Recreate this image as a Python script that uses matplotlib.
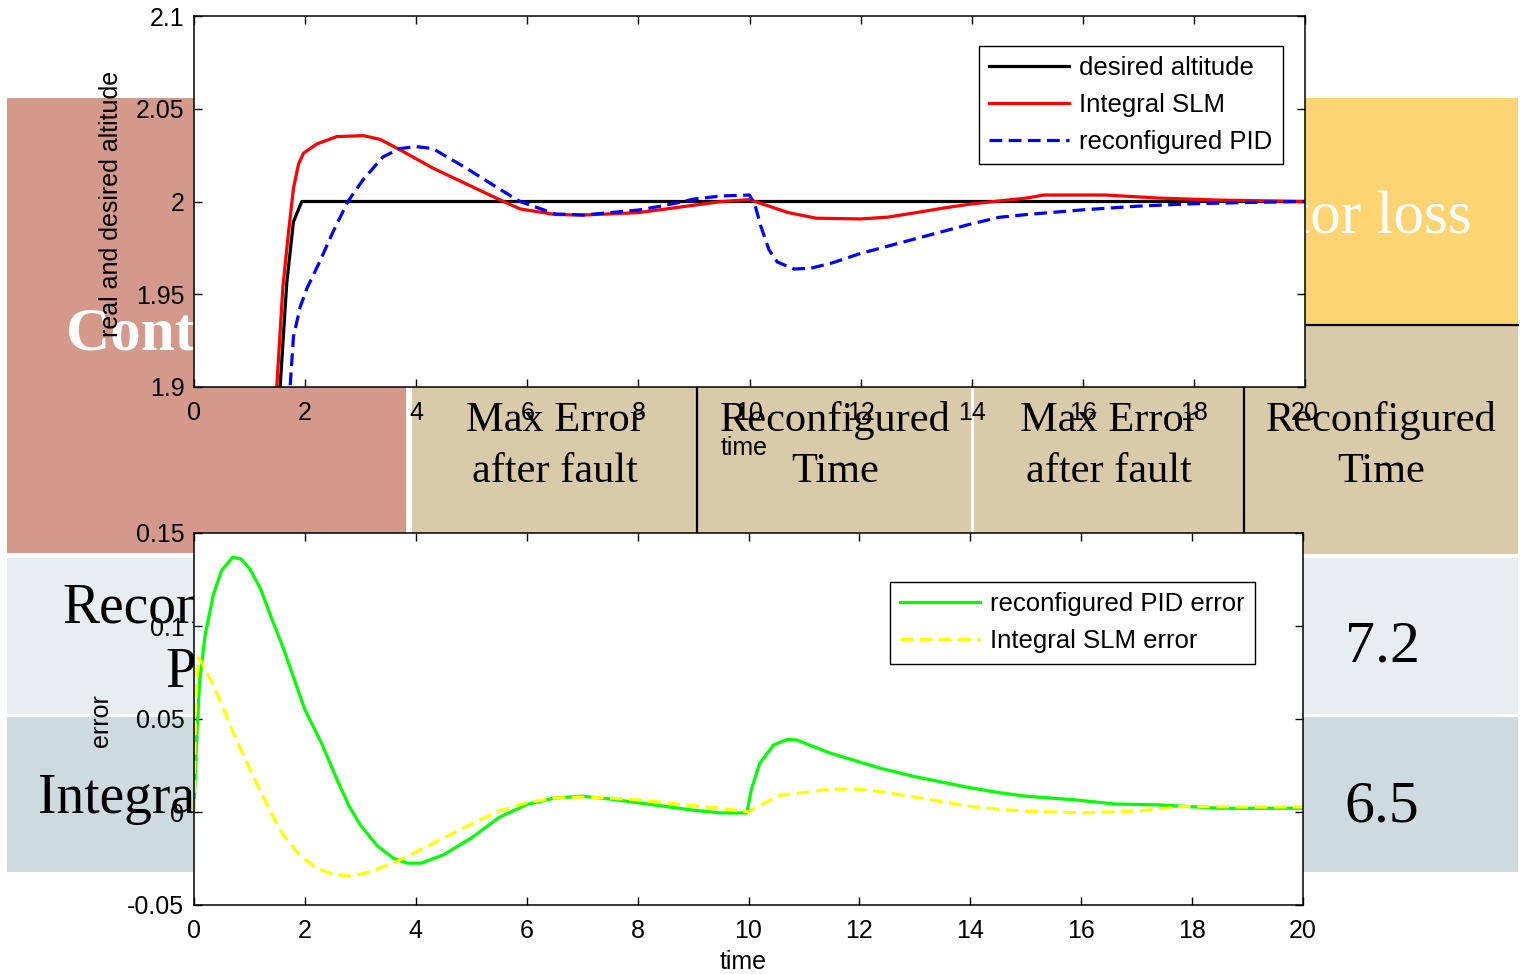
import numpy as np
import matplotlib
matplotlib.use("Agg")
import matplotlib.pyplot as plt
from matplotlib.patches import Rectangle

plt.rcParams['font.family'] = ['Liberation Sans', 'DejaVu Sans']

# --- data ---
t_desired = [1.45, 1.55, 1.67, 1.79, 1.94, 20.0]
alt_desired = [1.86, 1.90, 1.956, 1.989, 2.0, 2.0]

t_slm = [1.42, 1.49, 1.6, 1.7, 1.79, 1.88, 1.97, 2.21, 2.57, 3.05, 3.35, 3.7, 4.3, 4.9,
         5.5, 5.87, 6.5, 7.0, 8.0, 9.0, 9.5, 10.0, 10.3, 10.7, 11.2, 12.0, 12.5, 13.0,
         13.5, 14.0, 14.5, 15.0, 15.3, 16.4, 17.4, 18.4, 20.0]
alt_slm = [1.86, 1.90, 1.954, 1.983, 2.007, 2.02, 2.026, 2.031, 2.035, 2.0355, 2.0335,
           2.028, 2.018, 2.0095, 2.001, 1.996, 1.993, 1.9927, 1.994, 1.998, 2.0, 2.001,
           1.998, 1.994, 1.991, 1.9906, 1.9916, 1.994, 1.9965, 1.9987, 2.0003, 2.0019,
           2.0035, 2.0035, 2.0018, 2.0008, 2.0]

t_pid = [1.7, 1.73, 1.79, 1.91, 2.03, 2.27, 2.5, 2.77, 3.05, 3.4, 3.7, 4.0, 4.3, 4.9,
         5.5, 5.87, 6.5, 7.0, 8.0, 8.5, 9.0, 9.5, 10.0, 10.1, 10.2, 10.35, 10.5, 10.8,
         11.1, 11.5, 12.0, 12.5, 13.0, 13.5, 14.0, 14.5, 15.0, 16.0, 17.0, 18.0, 19.0, 20.0]
alt_pid = [1.87, 1.90, 1.927, 1.943, 1.953, 1.968, 1.9835, 2.0, 2.012, 2.024, 2.0285,
           2.0296, 2.0285, 2.018, 2.0067, 2.0, 1.9933, 1.9927, 1.9954, 1.998, 2.0013,
           2.003, 2.0035, 1.998, 1.987, 1.974, 1.9674, 1.9636, 1.964, 1.967, 1.972,
           1.976, 1.980, 1.984, 1.988, 1.9915, 1.993, 1.9955, 1.9975, 1.9988, 1.9995, 2.0]

t_pid_err = [0.0, 0.05, 0.1, 0.2, 0.35, 0.5, 0.7, 0.85, 1.0, 1.2, 1.4, 1.6, 1.8, 2.0,
             2.3, 2.6, 2.8, 3.0, 3.3, 3.6, 3.85, 4.1, 4.5, 5.0, 5.5, 6.0, 6.5, 7.0, 7.5,
             8.0, 8.5, 9.0, 9.5, 9.97, 10.05, 10.2, 10.45, 10.7, 10.87, 11.47, 12.37,
             13.0, 13.5, 14.0, 14.5, 15.0, 15.9, 16.6, 17.4, 18.5, 20.0]
err_pid = [0.003, 0.04, 0.07, 0.095, 0.117, 0.13, 0.137, 0.136, 0.131, 0.12, 0.104,
           0.089, 0.072, 0.055, 0.037, 0.016, 0.003, -0.007, -0.018, -0.025, -0.0275,
           -0.0275, -0.023, -0.014, -0.003, 0.004, 0.0075, 0.0085, 0.007, 0.005, 0.003,
           0.001, -0.0005, -0.0005, 0.012, 0.026, 0.036, 0.039, 0.0387, 0.0317, 0.0236,
           0.019, 0.016, 0.013, 0.0105, 0.0085, 0.0065, 0.0043, 0.0038, 0.002, 0.002]

t_slm_err = [0.0, 0.03, 0.08, 0.2, 0.35, 0.5, 0.7, 0.9, 1.2, 1.4, 1.6, 1.9, 2.2, 2.5,
             2.85, 3.2, 3.7, 4.3, 4.9, 5.5, 6.0, 6.5, 7.0, 7.5, 8.0, 8.8, 9.5, 10.0,
             10.3, 10.57, 10.87, 11.47, 11.95, 12.37, 13.0, 13.5, 14.0, 14.5, 15.0, 16.0,
             17.0, 17.85, 19.0, 20.0]
err_slm = [0.0, 0.06, 0.083, 0.077, 0.068, 0.058, 0.043, 0.03, 0.011, -0.001, -0.012,
           -0.023, -0.030, -0.0335, -0.0345, -0.032, -0.026, -0.017, -0.008, 0.0005,
           0.005, 0.0075, 0.008, 0.0075, 0.0065, 0.004, 0.002, 0.0, 0.005, 0.009, 0.010,
           0.0123, 0.0123, 0.011, 0.008, 0.0055, 0.003, 0.0015, 0.0005, -0.0005, 0.0005,
           0.003, 0.0027, 0.0027]

alt_yticks = [1.9, 1.95, 2.0, 2.05, 2.1]
alt_yticklabels = ['1.9', '1.95', '2', '2.05', '2.1']
err_yticks = [-0.05, 0.0, 0.05, 0.1, 0.15]
err_yticklabels = ['-0.05', '0', '0.05', '0.1', '0.15']
xticks = list(range(0, 21, 2))

W, H = 1527, 974
fig = plt.figure(figsize=(W / 100, H / 100), dpi=100)

# --- slide table behind the plots (pixel coords) ---
bg = fig.add_axes([0, 0, 1, 1])
bg.set_xlim(0, W)
bg.set_ylim(H, 0)
bg.axis('off')

def cell(x0, y0, x1, y1, color):
    bg.add_patch(Rectangle((x0, y0), x1 - x0, y1 - y0, facecolor=color, edgecolor='none'))

cell(7, 98, 406, 553, '#D4998A')
cell(412, 98, 970, 325, '#D9CAA9')
cell(974, 98, 1518, 325, '#FDD472')
cell(412, 325, 1518, 554, '#D9CAA9')
cell(7, 558, 1518, 714, '#E8EDF1')
cell(7, 717, 1518, 872, '#CDDBE1')
bg.plot([974, 1518], [325, 325], color='black', lw=1.6)
bg.plot([972, 972], [325, 554], color='white', lw=2)
for xv in (697, 1244):
    bg.plot([xv, xv], [325, 554], color='black', lw=1.6)

serif = ['Liberation Serif', 'DejaVu Serif']
bg.text(66, 350, 'Controller', fontsize=44, fontweight='bold', color='white', family=serif)
bg.text(1472, 234, 'Actuator loss', fontsize=44, color='white', ha='right', family=serif)
for cx, l1, l2 in [(555, 'Max Error', 'after fault'), (835, 'Reconfigured', 'Time'),
                   (1109, 'Max Error', 'after fault'), (1381, 'Reconfigured', 'Time')]:
    bg.text(cx, 431, l1, fontsize=30.5, ha='center', family=serif)
    bg.text(cx, 482, l2, fontsize=30.5, ha='center', family=serif)
bg.text(62, 623, 'Reconfigured', fontsize=40, family=serif)
bg.text(165, 687, 'PID', fontsize=40, family=serif)
bg.text(38, 813, 'Integral SLM', fontsize=40, family=serif)
bg.text(1382, 661, '7.2', fontsize=43, ha='center', family=serif)
bg.text(1382, 822, '6.5', fontsize=43, ha='center', family=serif)

# --- MATLAB-style plots ---
def style(ax, yticks, ylabels):
    ax.set_xlim(0, 20)
    ax.set_xticks(xticks)
    ax.set_yticks(yticks)
    ax.set_yticklabels(ylabels)
    ax.set_ylim(yticks[0], yticks[-1])
    ax.tick_params(direction='in', top=True, right=True, length=6, width=1,
                   labelsize=18, pad=7)
    ax.tick_params(axis='x', pad=10)
    for s in ax.spines.values():
        s.set_linewidth(1.1)
    ax.set_facecolor('white')

legend_kw = dict(loc='upper right', fontsize=18.5, fancybox=False, framealpha=1,
                 edgecolor='black', borderaxespad=0, handlelength=3.1,
                 handletextpad=0.4, labelspacing=0.5, borderpad=0.4)

ax1 = fig.add_axes([194 / W, 1 - 387 / H, (1305 - 194) / W, (387 - 16) / H])
ax1.plot(t_desired, alt_desired, color='black', lw=2.3, label='desired altitude')
ax1.plot(t_slm, alt_slm, color='red', lw=2.3, label='Integral SLM')
ax1.plot(t_pid, alt_pid, color='blue', lw=2.3, ls=(0, (4, 2)), label='reconfigured PID')
style(ax1, alt_yticks, alt_yticklabels)
ax1.set_xlabel('time', fontsize=18)
ax1.xaxis.set_label_coords(0.495, -0.133)
ax1.set_ylabel('real and desired altitude', fontsize=18)
ax1.yaxis.set_label_coords(-0.064, 0.493)
leg1 = ax1.legend(bbox_to_anchor=(0.980, 0.92), **legend_kw)
leg1.get_frame().set_linewidth(1.0)

ax2 = fig.add_axes([194 / W, 1 - 905 / H, (1303 - 194) / W, (905 - 533) / H])
ax2.plot(t_pid_err, err_pid, color='#00FF00', lw=2.3, label='reconfigured PID error')
ax2.plot(t_slm_err, err_slm, color='#FFFF00', lw=2.3, ls=(0, (4, 2)),
         label='Integral SLM error')
style(ax2, err_yticks, err_yticklabels)
ax2.set_xlabel('time', fontsize=18)
ax2.xaxis.set_label_coords(0.495, -0.122)
ax2.set_ylabel('error', fontsize=18)
ax2.yaxis.set_label_coords(-0.073, 0.497)
leg2 = ax2.legend(bbox_to_anchor=(0.957, 0.868), **legend_kw)
leg2.get_frame().set_linewidth(1.0)

fig.savefig('out.png', dpi=100)
